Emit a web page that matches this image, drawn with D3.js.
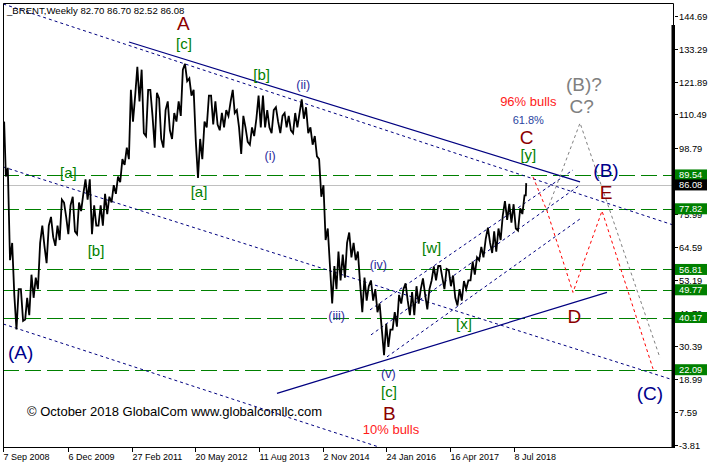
<!DOCTYPE html>
<html><head><meta charset="utf-8">
<script src="https://cdn.jsdelivr.net/npm/d3@7/dist/d3.min.js"></script>
<style>
body{margin:0;background:#fff}
svg{display:block}
text{font-family:"Liberation Sans",Arial,sans-serif}
</style>
</head><body>
<svg id="c" width="713" height="468"></svg>
<script>
// ---------- DATA ----------
const startDate = "2008-09-07";   // first weekly bar
const lastBar = "2018-09-30";     // last weekly bar
const startMonth = "2008-09";
// monthly high / low of Brent weekly bars, Sep 2008 .. Oct 2018
const monthHigh = [
 108, 92, 66, 50,
 50, 47, 55, 54, 66, 72, 72, 75, 72, 81, 80, 79,
 82, 80, 83, 88, 88, 79, 79, 83, 82, 86, 89, 95,
 99, 119, 117, 127, 126, 119, 119, 118, 116, 112, 115, 111,
 115, 126, 128, 123, 119, 102, 108, 117, 117, 115, 111, 112,
 115, 119, 112, 110, 106, 106, 109, 117, 117, 112, 112, 113,
 110, 111, 110, 111, 111, 115.7, 113, 106, 103, 95, 86, 71,
 58, 63, 62, 66, 69.6, 66, 63, 54, 51, 53, 50, 45,
 38, 36, 42, 48, 50, 52, 49, 51, 50, 53.7, 50, 57.9,
 58, 58, 57, 56.6, 54.7, 50, 52.8, 53, 59.5, 61, 64.6, 67.3,
 71.3, 70, 71, 75.5, 80.5, 79.5, 79.4, 78, 82.5, 86.7
];
const monthLow = [
 89, 60, 48, 36,
 39, 39.5, 41, 47, 50, 65, 59, 68, 65, 67, 75, 69,
 70, 69, 77, 81, 69, 72, 72, 72, 76, 80, 83, 87,
 93, 95, 108, 115, 104, 103, 110, 99, 102, 99, 105, 102,
 108, 110, 122, 117, 101, 88.5, 95, 106, 107, 107, 105, 106,
 110, 111, 106, 96.8, 101, 100, 103, 106, 106, 106, 104, 108,
 104, 106, 105, 104, 106, 109, 104, 100, 96, 82, 67, 58,
 45, 50, 53, 54, 61, 60, 52, 42, 46, 46, 42, 36,
 27.1, 30, 36, 37, 45, 46, 41, 41, 45, 48, 43, 53,
 53, 54, 50, 51, 47, 44.3, 46, 50, 53, 55, 60, 61,
 66, 62.5, 63, 67, 74, 73, 71, 70.3, 76, 82.5
];
const ohlc = [82.70, 86.70, 82.52, 86.08];
const levels = [89.54, 77.82, 56.81, 49.77, 40.17, 22.09];
const currentPrice = 86.08;
const priceTicks = [144.69,133.29,121.89,110.49,98.79,75.99,64.59,53.19,41.79,30.39,18.99,7.59,-3.81];
const dateTicks = ["2008-09-07","2009-12-06","2011-02-27","2012-05-20","2013-08-11","2014-11-02","2016-01-24","2017-04-16","2018-07-08"];

// trend lines as [weekIndex, price] pairs
const solidLines = [
 [[126.4,135.59],[579.9,87.12]],
 [[275.2,13.9],[607.0,48.87]]
];
const dottedLines = [
 [[0,148.74],[673.4,72.23]],
 [[0,92.31],[673.4,18.57]],
 [[0,37.92],[376.8,-4.58]],
 [[368.7,42.81],[572.8,91.27]],
 [[369.7,34.15],[579.9,86.08]],
 [[385.8,26.54],[579.9,74.31]]
];
const projRed  = [[532.6,88.85],[546.7,77.08],[572.8,48.87],[602.0,77.08],[653.3,22.38]];
const projGray = [[546.7,77.08],[579.9,107.54],[660.3,26.19]];

// wave labels [text, week, price, style]
const labels = [
 ["A",181.0,139.57,"wave"],["[c]",181.7,133.33,"sub"],
 ["[b]",259.8,122.43,"sub"],["(ii)",301.6,119.31,"minor"],["(i)",268.2,94.73,"minor"],
 ["[a]",65.4,88.50,"sub"],["[a]",196.8,81.92,"sub"],["[b]",93.2,61.50,"sub"],
 ["(A)",17.5,25.84,"big"],["(iii)",335.2,39.34,"minor"],["(iv)",377.1,57.00,"minor"],
 ["[w]",430.7,62.54,"sub"],["[x]",463.2,36.23,"sub"],["(v)",387.1,19.27,"minor"],
 ["[c]",387.8,12.69,"sub"],["B",388.1,4.73,"wave"],["10% bulls",389.8,-0.12,"note"],
 ["96% bulls",527.9,113.43,"note"],["61.8%",527.9,107.20,"fib"],["C",526.3,100.27,"wave"],
 ["[y]",527.9,94.73,"sub"],["(B)?",583.9,118.62,"gray"],["C?",581.6,111.01,"gray"],
 ["(B)",606.0,88.85,"big"],["E",606.0,81.23,"wave"],["D",574.1,38.31,"wave"],
 ["(C)",650.2,11.65,"big"]
];
const styles = {
 wave:{fill:"#8b0000",size:19},
 sub:{fill:"#008000",size:15},
 minor:{fill:"#2a2a9c",size:12.5},
 big:{fill:"#00008b",size:19},
 gray:{fill:"#808080",size:19},
 note:{fill:"#ff1a1a",size:13},
 fib:{fill:"#2a44a0",size:11}
};

// ---------- DRAW ----------
const svg = d3.select("#c");
const parse = d3.timeParse("%Y-%m-%d");
const t0 = parse(startDate);
const wk = d => (d - t0) / (7*864e5);
const x = d3.scaleLinear().domain([0,513]).range([3.3,513.5]);
const y = d3.scaleLinear().domain([-3.81,144.69]).range([444.5,15.7]);
const L = 3, R = 673, T = 3, B = 447;

svg.append("rect").attr("width",713).attr("height",468).attr("fill","#fff");
svg.append("clipPath").attr("id","clip").append("rect")
  .attr("x",L).attr("y",T).attr("width",R-L).attr("height",B-T);
const g = svg.append("g").attr("clip-path","url(#clip)");

// horizontal levels
g.selectAll(".lvl").data(levels).join("line")
  .attr("x1",L).attr("x2",R).attr("y1",d=>Math.round(y(d))+0.5).attr("y2",d=>Math.round(y(d))+0.5)
  .attr("stroke","#008000").attr("stroke-width",1).attr("stroke-dasharray","16,6")
  .attr("shape-rendering","crispEdges");
g.append("line").attr("x1",L).attr("x2",R)
  .attr("y1",Math.round(y(currentPrice))+0.5).attr("y2",Math.round(y(currentPrice))+0.5)
  .attr("stroke","#c0c0c0").attr("shape-rendering","crispEdges");

const line = d3.line().x(d=>x(d[0])).y(d=>y(d[1]));
g.selectAll(".ds").data(dottedLines).join("path")
  .attr("d",line).attr("fill","none").attr("stroke","#000080").attr("stroke-dasharray","3,3");
g.selectAll(".ss").data(solidLines).join("path")
  .attr("d",line).attr("fill","none").attr("stroke","#000080").attr("stroke-width",1.2);

// price path (monthly high/low zigzag)
const m0 = d3.timeParse("%Y-%m")(startMonth);
const endW = wk(parse(lastBar)) + 1;
const pts = [];
monthHigh.forEach((h,i)=>{
  const lo = monthLow[i];
  let ws = Math.max(0, wk(d3.timeMonth.offset(m0,i)));
  let we = Math.min(endW, wk(d3.timeMonth.offset(m0,i+1)));
  const nextMid = i < monthHigh.length-1 ? (monthHigh[i+1]+monthLow[i+1])/2 : Infinity;
  const rising = nextMid > (h+lo)/2;
  const a = ws + (we-ws)*0.25, b = ws + (we-ws)*0.75;
  if (rising) { pts.push([a,lo]); pts.push([b,h]); }
  else { pts.push([a,h]); pts.push([b,lo]); }
});
g.append("path").attr("d",line(pts)).attr("fill","none")
  .attr("stroke","#000").attr("stroke-width",1.8).attr("stroke-linejoin","miter");

// projections
g.append("path").attr("d",line(projGray)).attr("fill","none")
  .attr("stroke","#808080").attr("stroke-dasharray","3,3");
g.append("path").attr("d",line(projRed)).attr("fill","none")
  .attr("stroke","#ff0000").attr("stroke-dasharray","3,3");

// labels
svg.selectAll(".lab").data(labels).join("text")
  .attr("x",d=>x(d[1])).attr("y",d=>y(d[2]))
  .attr("text-anchor","middle")
  .attr("font-size",d=>styles[d[3]].size)
  .attr("fill",d=>styles[d[3]].fill)
  .text(d=>d[0]);

svg.append("text").attr("x",7).attr("y",13.5).attr("font-size",9.6).attr("fill","#000")
  .text("_BRENT,Weekly  " + ohlc.map(v=>v.toFixed(2)).join(" "));
svg.append("text").attr("x",27).attr("y",416).attr("font-size",13).attr("fill","#000")
  .text("\u00A9 October 2018 GlobalCom www.globalcomllc.com");

// frame
svg.append("path").attr("d",`M${L+0.5},${B+0.5}V${T+0.5}H${R+0.5}V25`)
  .attr("fill","none").attr("stroke","#000");
svg.append("line").attr("x1",L).attr("x2",R+1).attr("y1",B+0.5).attr("y2",B+0.5).attr("stroke","#000");
svg.append("rect").attr("x",671.5).attr("y",25).attr("width",3.5).attr("height",B-25+1).attr("fill","#000");

// right price axis
const ya = svg.append("g");
priceTicks.forEach(v=>{
  const yy = Math.round(y(v))+0.5;
  ya.append("line").attr("x1",675).attr("x2",678).attr("y1",yy).attr("y2",yy).attr("stroke","#000");
  ya.append("text").attr("x",679).attr("y",yy+3.3).attr("font-size",9.3).attr("fill","#000").text(v.toFixed(2));
});
levels.forEach(v=>{
  const yy = y(v);
  ya.append("rect").attr("x",675).attr("y",yy-5.5).attr("width",32).attr("height",11).attr("fill","#008000");
  ya.append("text").attr("x",679).attr("y",yy+3.3).attr("font-size",9.3).attr("fill","#fff").text(v.toFixed(2));
});
{
  const yy = y(currentPrice);
  ya.append("rect").attr("x",675).attr("y",yy-5.5).attr("width",32).attr("height",11).attr("fill","#000");
  ya.append("text").attr("x",679).attr("y",yy+3.3).attr("font-size",9.3).attr("fill","#fff").text(currentPrice.toFixed(2));
}

// bottom date axis
const fmt = d3.timeFormat("%-d %b %Y");
const xa = svg.append("g");
dateTicks.forEach(s=>{
  const d = parse(s), xx = Math.round(x(wk(d)))+0.5;
  xa.append("line").attr("x1",xx).attr("x2",xx).attr("y1",B).attr("y2",B+5).attr("stroke","#000");
  xa.append("text").attr("x",xx).attr("y",460).attr("font-size",9).attr("fill","#000").text(fmt(d));
});
</script>
</body></html>
